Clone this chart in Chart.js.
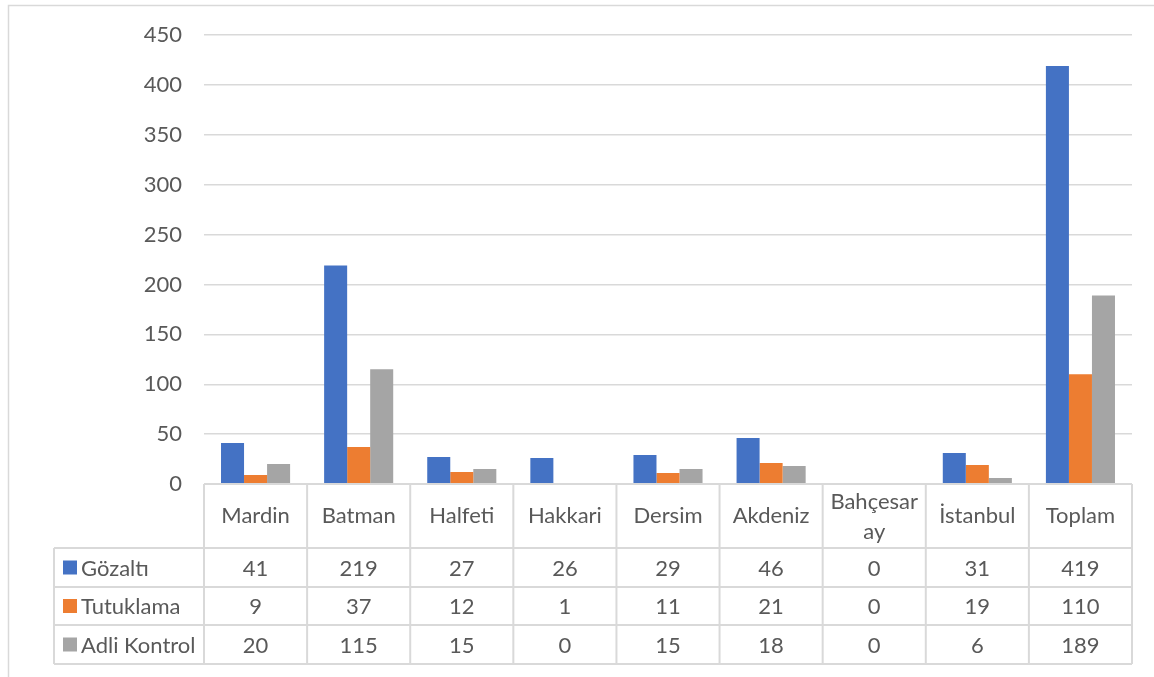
<!DOCTYPE html>
<html>
<head>
<meta charset="utf-8">
<script src="https://cdn.jsdelivr.net/npm/chart.js@4/dist/chart.umd.min.js"></script>
<style>
  body { margin: 0; background: #ffffff; }
</style>
</head>
<body>
<canvas id="grafico" width="1154" height="677"></canvas>
<script>
const categorias = ["Mardin", "Batman", "Halfeti", "Hakkari", "Dersim", "Akdeniz", ["Bahçesar", "ay"], "İstanbul", "Toplam"];
const gozalti = [41, 219, 27, 26, 29, 46, 0, 31, 419];
const tutuklama = [9, 37, 12, 1, 11, 21, 0, 19, 110];
const adliKontrol = [20, 115, 15, 0, 15, 18, 0, 6, 189];
const nomesSeries = ["Gözaltı", "Tutuklama", "Adli Kontrol"];
const coresSeries = ["#4472C4", "#ED7D31", "#A5A5A5"];
const yTicks = [0, 50, 100, 150, 200, 250, 300, 350, 400, 450];

const fonte = "Lato, 'Open Sans', sans-serif";
const corTexto = "#595959";
const corLinha = "#D9D9D9";

// tabela de dados desenhada embaixo do gráfico
const tabelaPlugin = {
    id: "tabela",
    afterDraw(chart) {
        const ctx = chart.ctx;
        const x = chart.scales.x;
        const area = chart.chartArea;
        const n = categorias.length;
        const larg = (area.right - area.left) / n;
        const topo = area.bottom;
        const fimCab = 548;
        const linhas = [fimCab, 587, 625, 664];
        const esq = 54;
        const series = [gozalti, tutuklama, adliKontrol];

        ctx.save();
        // borda externa do gráfico
        ctx.strokeStyle = corLinha;
        ctx.lineWidth = 1.5;
        ctx.strokeRect(8.5, 5.5, 1160, 680);

        ctx.lineWidth = 2;
        ctx.strokeStyle = corLinha;
        ctx.beginPath();
        // linha de cima (eixo)
        ctx.moveTo(area.left, topo);
        ctx.lineTo(area.right, topo);
        // linhas das séries
        for (let i = 0; i < linhas.length; i++) {
            ctx.moveTo(esq, linhas[i]);
            ctx.lineTo(area.right, linhas[i]);
        }
        // verticais
        ctx.moveTo(esq, fimCab);
        ctx.lineTo(esq, linhas[3]);
        for (let i = 0; i <= n; i++) {
            let px = area.left + i * larg;
            ctx.moveTo(px, topo);
            ctx.lineTo(px, linhas[3]);
        }
        ctx.stroke();

        ctx.fillStyle = corTexto;
        ctx.font = "22px " + fonte;
        ctx.textAlign = "center";
        ctx.textBaseline = "middle";
        // cabeçalho
        for (let i = 0; i < n; i++) {
            let cx = x.getPixelForValue(i);
            let rotulo = categorias[i];
            if (Array.isArray(rotulo)) {
                ctx.fillText(rotulo[0], cx, 502);
                ctx.fillText(rotulo[1], cx, 532);
            } else {
                ctx.fillText(rotulo, cx, (topo + fimCab) / 2);
            }
        }
        // valores
        for (let s = 0; s < series.length; s++) {
            let cy = (linhas[s] + linhas[s + 1]) / 2;
            ctx.fillStyle = coresSeries[s];
            ctx.fillRect(63, cy - 7, 14, 14);
            ctx.fillStyle = corTexto;
            ctx.textAlign = "left";
            ctx.fillText(nomesSeries[s], 81, cy + 1);
            ctx.textAlign = "center";
            for (let i = 0; i < n; i++) {
                ctx.fillText(String(series[s][i]), x.getPixelForValue(i), cy + 1);
            }
        }
        ctx.restore();
    }
};

const ctx = document.getElementById("grafico").getContext("2d");
const grafico = new Chart(ctx, {
    type: "bar",
    data: {
        labels: categorias,
        datasets: [
            { label: nomesSeries[0], data: gozalti, backgroundColor: coresSeries[0] },
            { label: nomesSeries[1], data: tutuklama, backgroundColor: coresSeries[1] },
            { label: nomesSeries[2], data: adliKontrol, backgroundColor: coresSeries[2] }
        ]
    },
    options: {
        responsive: false,
        animation: false,
        layout: { padding: { top: 34, right: 22, bottom: 193, left: 0 } },
        datasets: { bar: { categoryPercentage: 0.67, barPercentage: 1 } },
        plugins: { legend: { display: false }, tooltip: { enabled: false } },
        scales: {
            x: { display: false },
            y: {
                min: 0,
                max: 450,
                afterFit(scale) { scale.width = 204; },
                afterBuildTicks(scale) { scale.ticks = yTicks.map(v => ({ value: v })); },
                border: { display: false },
                grid: { color: corLinha, lineWidth: 1.5, drawTicks: false },
                ticks: { padding: 22, color: corTexto, font: { family: fonte, size: 22 } }
            }
        }
    },
    plugins: [tabelaPlugin]
});
</script>
</body>
</html>
